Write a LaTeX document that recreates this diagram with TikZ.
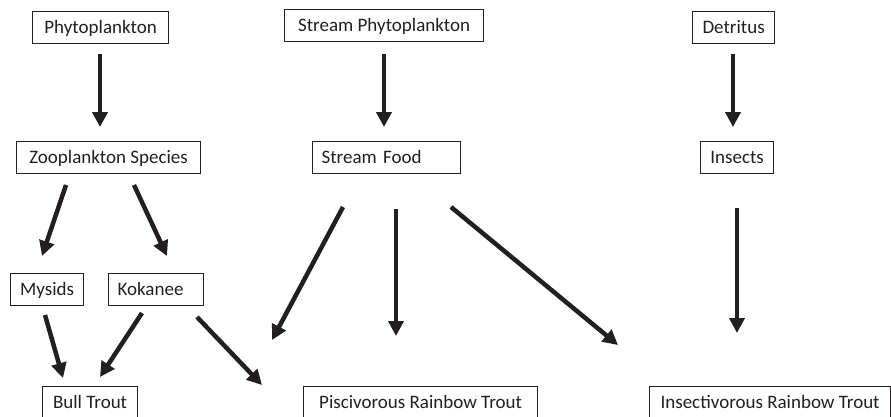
\documentclass[tikz,border=0pt]{standalone}
\usepackage{fontspec}
\setmainfont{Carlito}
\usetikzlibrary{arrows.meta}
\definecolor{ink}{HTML}{231F20}
\begin{document}
\begin{tikzpicture}[x=1pt,y=-1pt,
  box/.style={draw=ink, line width=1.2pt, inner xsep=0pt, inner ysep=0pt,
    minimum height=32pt, font=\fontsize{19}{22}\selectfont, text=ink,
    text height=12.5pt, text depth=0pt, anchor=north west},
  lbox/.style={box, inner xsep=9pt, align=left},
  arr/.style={draw=ink, line width=4.5pt, -{Triangle[width=15pt,length=15pt]}}]
\useasboundingbox (0,0) rectangle (891,416);
\clip (0,0) rectangle (891,416);
% boxes
\node[box, minimum width=136pt] (phyto) at (32,11) {Phytoplankton};
\node[box, minimum width=199pt] (sphyto) at (284,9) {Stream Phytoplankton};
\node[box, minimum width=82pt] (detr) at (692,11) {Detritus};
\node[box, minimum width=184pt] (zoo) at (16,141) {Zooplankton Species};
\node[lbox, text width=130pt] (sfood) at (312,141) {Stream Food};
\node[box, minimum width=73pt] (ins) at (700,141) {Insects};
\node[box, minimum width=73pt] (mys) at (10,273) {Mysids};
\node[lbox, text width=77pt] (kok) at (108,273) {Kokanee};
\node[box, minimum width=95pt] (bull) at (42,386) {Bull Trout};
\node[box, minimum width=234pt] (pisc) at (303,386) {Piscivorous Rainbow Trout};
\node[box, minimum width=241pt] (insr) at (649,386) {Insectivorous Rainbow Trout};
% arrow end points
\coordinate (p1) at (100,54);  \coordinate (q1) at (100,127);
\coordinate (p2) at (384,54);  \coordinate (q2) at (384,127);
\coordinate (p3) at (733,54);  \coordinate (q3) at (733,127);
\coordinate (p4) at (66,185);  \coordinate (q4) at (42,256);
\coordinate (p5) at (134,185); \coordinate (q5) at (167,256);
\coordinate (p6) at (45,315);  \coordinate (q6) at (63,378);
\coordinate (p7) at (142,313); \coordinate (q7) at (100,377);
\coordinate (p8) at (197,317); \coordinate (q8) at (262,385);
\coordinate (p9) at (343,207); \coordinate (q9) at (272,340);
\coordinate (p10) at (396,209); \coordinate (q10) at (396,336);
\coordinate (p11) at (451,207); \coordinate (q11) at (618,345);
\coordinate (p12) at (737,208); \coordinate (q12) at (737,333);
% arrows
\draw[arr] (p1) -- (q1);
\draw[arr] (p2) -- (q2);
\draw[arr] (p3) -- (q3);
\draw[arr] (p4) -- (q4);
\draw[arr] (p5) -- (q5);
\draw[arr] (p6) -- (q6);
\draw[arr] (p7) -- (q7);
\draw[arr] (p8) -- (q8);
\draw[arr] (p9) -- (q9);
\draw[arr] (p10) -- (q10);
\draw[arr] (p11) -- (q11);
\draw[arr] (p12) -- (q12);
\end{tikzpicture}
\end{document}
